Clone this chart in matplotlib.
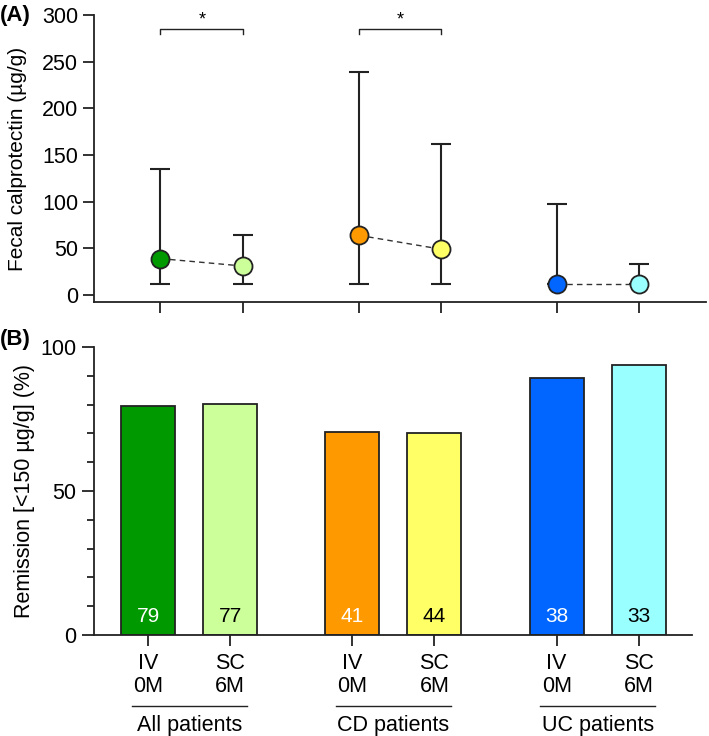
import matplotlib
matplotlib.use("Agg")
import matplotlib.pyplot as plt
from matplotlib.ticker import MultipleLocator
import matplotlib.transforms as mtransforms

plt.rcParams['font.family'] = ['Liberation Sans', 'DejaVu Sans']

# Datos
groups = ['All patients', 'CD patients', 'UC patients']
timepoints = ['IV\n0M', 'SC\n6M', 'IV\n0M', 'SC\n6M', 'IV\n0M', 'SC\n6M']
fcp_median = [39, 31, 64, 49, 12, 12]
fcp_upper = [135, 64, 239, 162, 97, 33]
fcp_lower = [12, 12, 12, 12, 12, 12]
remission_pct = [79.5, 80.3, 70.4, 70.2, 89.2, 93.7]
n_patients = [79, 77, 41, 44, 38, 33]
sig_pairs = [(0, 1), (2, 3)]

COLORS = ['#009900', '#CCFF99', '#FF9900', '#FFFF66', '#0066FF', '#99FFFF']
TEXT_COLORS = ['white', 'black', 'white', 'black', 'white', 'black']
INK = '#222222'
FS = 15.5

pos_a = [0, 1, 2.39, 3.39, 4.78, 5.77]
pos_b = [0, 1, 2.49, 3.49, 4.98, 5.98]

fig = plt.figure(figsize=(7.09, 7.36), dpi=100)
W, H = 709, 736
ax_a = fig.add_axes([94 / W, 1 - 302 / H, (706 - 94) / W, (302 - 15) / H])
ax_b = fig.add_axes([94 / W, 1 - 635 / H, (692 - 94) / W, (635 - 347) / H])

for ax in (ax_a, ax_b):
    ax.spines['top'].set_visible(False)
    ax.spines['right'].set_visible(False)
    for s in ('left', 'bottom'):
        ax.spines[s].set_linewidth(1.3)
        ax.spines[s].set_color(INK)
    ax.tick_params(width=1.3, color=INK, labelsize=FS, length=8)

# ---- Panel A: calprotectina fecal ----
for i in range(0, 6, 2):
    ax_a.plot([pos_a[i], pos_a[i + 1]], [fcp_median[i], fcp_median[i + 1]],
              linestyle=(0, (4, 3)), color='#333333', linewidth=1.0, zorder=2)

for i in range(6):
    lo = fcp_median[i] - fcp_lower[i]
    hi = fcp_upper[i] - fcp_median[i]
    ax_a.errorbar(pos_a[i], fcp_median[i], yerr=[[lo], [hi]], fmt='none',
                  ecolor=INK, elinewidth=1.5, capsize=7.5, capthick=1.5, zorder=1)
    ax_a.plot(pos_a[i], fcp_median[i], 'o', markersize=13, markerfacecolor=COLORS[i],
              markeredgecolor=INK, markeredgewidth=1.3, zorder=3)

for a, b in sig_pairs:
    ax_a.plot([pos_a[a], pos_a[a], pos_a[b], pos_a[b]], [280, 285, 285, 280],
              color=INK, linewidth=1.0)
    ax_a.text((pos_a[a] + pos_a[b]) / 2, 286, '*', ha='center', va='bottom', fontsize=13)

ax_a.set_xlim(-0.8, 6.58)
ax_a.set_ylim(-7.5, 300)
ax_a.set_yticks([0, 50, 100, 150, 200, 250, 300])
ax_a.set_xticks(pos_a)
ax_a.set_xticklabels([])
ax_a.set_ylabel('Fecal calprotectin (µg/g)', fontsize=15)
ax_a.yaxis.set_label_coords(-0.109, 0.5)

# ---- Panel B: remisión ----
ax_b.bar(pos_b, remission_pct, width=0.66, color=COLORS, edgecolor=INK, linewidth=1.3)
for i in range(6):
    ax_b.text(pos_b[i], 6.3, str(n_patients[i]), ha='center', va='center',
              fontsize=15, color=TEXT_COLORS[i])

ax_b.set_xlim(-0.66, 6.63)
ax_b.set_ylim(0, 100)
ax_b.set_yticks([0, 50, 100])
ax_b.yaxis.set_minor_locator(MultipleLocator(10))
ax_b.tick_params(axis='y', which='minor', length=5, width=1.3, color=INK)
ax_b.tick_params(axis='y', which='major', length=9)
ax_b.tick_params(axis='x', pad=5)
ax_b.set_xticks(pos_b)
ax_b.set_xticklabels(timepoints, fontsize=FS, linespacing=1.15)
ax_b.set_ylabel('Remission [<150 µg/g] (%)', fontsize=15.5)
ax_b.yaxis.set_label_coords(-0.099, 0.5)

trans = mtransforms.blended_transform_factory(ax_b.transData, ax_b.transAxes)
for g, name in enumerate(groups):
    c = (pos_b[2 * g] + pos_b[2 * g + 1]) / 2
    ax_b.plot([c - 0.7, c + 0.7], [-0.2465, -0.2465], color=INK, linewidth=1.0,
              transform=trans, clip_on=False)
    ax_b.text(c, -0.313, name, ha='center', va='center', fontsize=FS, transform=trans)

fig.text(0.0, 1 - 15 / H, '(A)', fontsize=16, fontweight='bold', va='center', ha='left')
fig.text(0.0, 1 - 339 / H, '(B)', fontsize=16, fontweight='bold', va='center', ha='left')

fig.savefig('out.png', dpi=100)
